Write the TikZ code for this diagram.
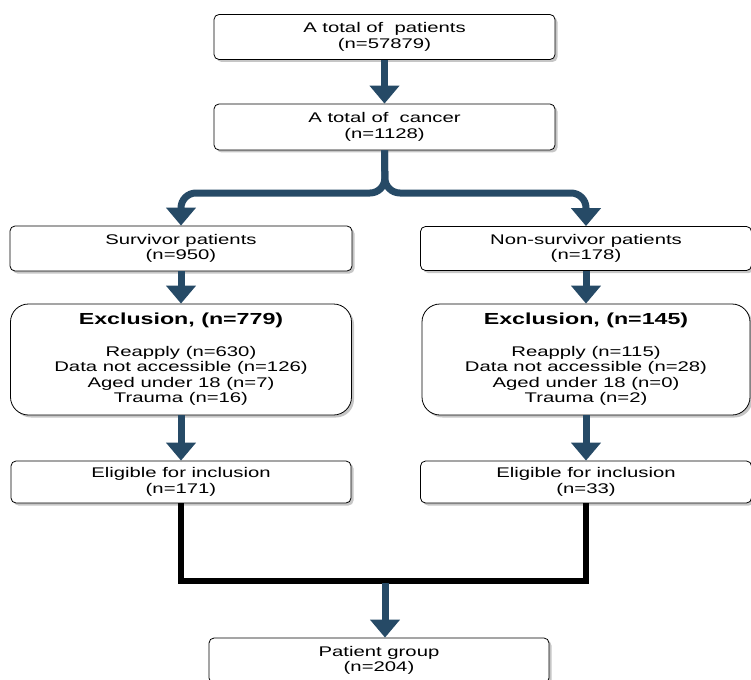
\documentclass[tikz,border=0pt]{standalone}
\usepackage{fontspec}
\setmainfont[FakeStretch=1.45]{Liberation Sans}
\usetikzlibrary{arrows.meta,shadows,calc}
\definecolor{arrowblue}{HTML}{264A66}
\begin{document}
\begin{tikzpicture}[x=1pt,y=-1pt,
  box/.style={draw=black, line width=0.8pt, fill=white, rounded corners=5pt,
    inner sep=0pt, align=center,
    font=\fontsize{14}{15.5}\selectfont,
    drop shadow={shadow xshift=2.5pt, shadow yshift=-2.5pt, opacity=0.45, fill=gray}},
  bigbox/.style={box, rounded corners=18pt},
  arr/.style={draw=arrowblue, line width=7pt, rounded corners=15pt,
    -{Triangle[width=29pt,length=18pt]}},
  joinline/.style={draw=black, line width=5.5pt, line join=miter}]
\useasboundingbox (0,0) rectangle (751,679);
\node[box, minimum width=341pt, minimum height=45pt] (b1) at (384.5,37)
  {A total of\ \ patients\\(n=57879)};
\node[box, minimum width=341pt, minimum height=46pt] (b2) at (384.5,127)
  {A total of\ \ cancer\\(n=1128)};
\node[box, minimum width=342pt, minimum height=45pt] (b3L) at (181,248.5)
  {Survivor patients\\(n=950)};
\node[box, minimum width=331pt, minimum height=44pt] (b3R) at (586,248.5)
  {Non-survivor patients\\(n=178)};
\node[bigbox, minimum width=341pt, minimum height=111pt] (b4L) at (181,359.5)
  {{\fontsize{16}{18}\selectfont\bfseries Exclusion, (n=779)}\\[16pt]
   Reapply (n=630)\\Data not accessible (n=126)\\Aged under 18 (n=7)\\Trauma (n=16)};
\node[bigbox, minimum width=328pt, minimum height=111pt] (b4R) at (586,359.5)
  {{\fontsize{16}{18}\selectfont\bfseries Exclusion, (n=145)}\\[16pt]
   Reapply (n=115)\\Data not accessible (n=28)\\Aged under 18 (n=0)\\Trauma (n=2)};
\node[box, minimum width=340pt, minimum height=42pt] (b5L) at (181,482)
  {Eligible for inclusion\\(n=171)};
\node[box, minimum width=331pt, minimum height=42pt] (b5R) at (586,482)
  {Eligible for inclusion\\(n=33)};
\node[box, minimum width=340pt, minimum height=45pt] (b6) at (379,660.5)
  {Patient group\\(n=204)};
\coordinate (junc) at (385,193);
\coordinate (jb) at (385,581);
\coordinate (jm) at (385,583);
\draw[arr] (b1.south) -- (b2.north);
\draw[arr] (b2.south) -- (junc) -- (b3L.north |- junc) -- (b3L.north);
\draw[arr] (b2.south) -- (junc) -- (b3R.north |- junc) -- (b3R.north);
\draw[arr] (b3L.south) -- (b4L.north);
\draw[arr] (b3R.south) -- (b4R.north);
\draw[arr] (b4L.south) -- (b5L.north);
\draw[arr] (b4R.south) -- (b5R.north);
\draw[joinline] (b5L.south) -- (b5L.south |- jb) -- (b5R.south |- jb) -- (b5R.south);
\draw[arr] (jm) -- (jm |- b6.north);
\end{tikzpicture}
\end{document}
